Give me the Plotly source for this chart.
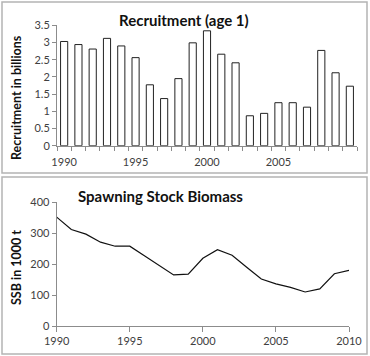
import plotly.graph_objects as go

years = list(range(1990, 2011))
recruitment = [3.03, 2.94, 2.81, 3.12, 2.90, 2.56, 1.77, 1.37, 1.95, 2.99, 3.34,
               2.66, 2.41, 0.87, 0.94, 1.25, 1.25, 1.12, 2.77, 2.12, 1.73]
ssb = [352, 312, 297, 271, 258, 258, 227, 196, 165, 168, 219,
       247, 229, 190, 152, 136, 125, 110, 120, 169, 180]

title_top = "Recruitment (age 1)"
title_bot = "Spawning Stock Biomass"
ytitle_top = "Recruitment in billions"
ytitle_bot = "SSB in 1000 t"

W, H = 370, 356
FONT = "Lato, 'Liberation Sans', sans-serif"
AX = "#8c8c8c"
TXT = "#404040"

def py(p):
    return 1 - p / H

def px(p):
    return p / W

fig = go.Figure()
fig.add_trace(go.Bar(x=years, y=recruitment, width=0.5,
                     marker=dict(color="white", line=dict(color="#222222", width=1)),
                     xaxis="x", yaxis="y"))
fig.add_trace(go.Scatter(x=years, y=ssb, mode="lines",
                         line=dict(color="#111111", width=1.2),
                         xaxis="x2", yaxis="y2"))

fig.update_layout(
    template="none",
    width=W, height=H, margin=dict(l=0, r=0, t=0, b=0, autoexpand=False),
    paper_bgcolor="white", plot_bgcolor="white", showlegend=False,
    font=dict(family=FONT, color=TXT, size=11),
    xaxis=dict(domain=[px(57), px(357)], range=[1989.5, 2010.5], automargin=False,
               tickvals=[1990, 1995, 2000, 2005], ticks="", showgrid=False,
               ticklabelstandoff=6,
               showline=True, linecolor=AX, linewidth=1, zeroline=False,
               minor=dict(tick0=1989.5, dtick=1, ticks="outside", ticklen=4,
                          tickcolor=AX, showgrid=False),
               tickfont=dict(size=11, color=TXT), anchor="y"),
    yaxis=dict(domain=[py(145.7), py(25.3)], range=[0, 3.5], dtick=0.5,
               automargin=False, ticks="outside", ticklen=4, tickcolor=AX,
               showgrid=False, showline=True, linecolor=AX, linewidth=1,
               zeroline=False, tickfont=dict(size=11, color=TXT), anchor="x"),
    xaxis2=dict(domain=[px(56.7), px(349)], range=[1990, 2010], automargin=False,
                tickvals=[1990, 1995, 2000, 2005, 2010], ticks="outside",
                ticklen=5, tickcolor=AX, showgrid=False, showline=True,
                linecolor=AX, linewidth=1, zeroline=False,
                tickfont=dict(size=11, color=TXT), anchor="y2"),
    yaxis2=dict(domain=[py(326), py(202.3)], range=[0, 400], dtick=100,
                automargin=False, ticks="outside", ticklen=4, tickcolor=AX,
                showgrid=False, showline=True, linecolor=AX, linewidth=1,
                zeroline=False, tickfont=dict(size=11, color=TXT), anchor="x2"),
    shapes=[
        dict(type="rect", xref="paper", yref="paper", x0=px(2), x1=px(367),
             y0=py(173), y1=py(2), line=dict(color="#b4b4b4", width=1.5)),
        dict(type="rect", xref="paper", yref="paper", x0=px(2), x1=px(367),
             y0=py(354), y1=py(177), line=dict(color="#b4b4b4", width=1.5)),
    ],
    annotations=[
        dict(text=f"<b>{title_top}</b>", xref="paper", yref="paper",
             x=px(184), y=py(20), xanchor="center", yanchor="middle",
             showarrow=False, font=dict(size=15, color="#111111", family=FONT)),
        dict(text=f"<b>{title_bot}</b>", xref="paper", yref="paper",
             x=px(160), y=py(196), xanchor="center", yanchor="middle",
             showarrow=False, font=dict(size=15, color="#111111", family=FONT)),
        dict(text=f"<b>{ytitle_top}</b>", xref="paper", yref="paper",
             x=px(16), y=py(98), xanchor="center", yanchor="middle",
             textangle=-90, showarrow=False,
             font=dict(size=12.5, color="#111111", family=FONT)),
        dict(text=f"<b>{ytitle_bot}</b>", xref="paper", yref="paper",
             x=px(16), y=py(268), xanchor="center", yanchor="middle",
             textangle=-90, showarrow=False,
             font=dict(size=12.5, color="#111111", family=FONT)),
    ],
)

fig.write_html("out.html", config={"displayModeBar": False},
               post_script="document.body.style.margin='0';document.body.style.overflow='hidden';")
